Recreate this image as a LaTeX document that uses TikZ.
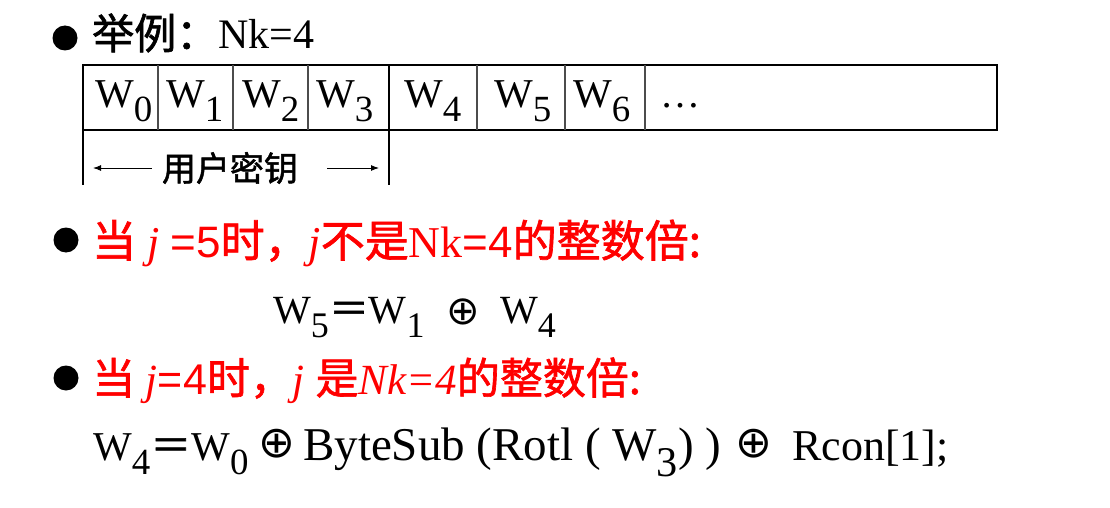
\documentclass[tikz,border=0pt]{standalone}
\usepackage{fontspec}
\setmainfont{Liberation Serif}
\setsansfont{Liberation Sans}
\newfontfamily\cjk[FakeBold=1.5]{Noto Sans CJK SC}
\newfontfamily\symb{DejaVu Sans}
\usetikzlibrary{arrows.meta}
\definecolor{hotred}{RGB}{255,0,0}
% W with its index lowered
\newcommand\Wi[1]{W\raisebox{-0.35em}{\scalebox{0.9}{#1}}}
\tikzset{
  txt/.style={inner sep=0pt, anchor=base west},
  bullet/.style={circle, fill=black, minimum size=25pt, inner sep=0pt},
  tabline/.style={line width=1.2pt},
  keyarrow/.style={-{Latex[length=8pt,width=6pt]}, line width=1pt},
  xorsign/.style={inner sep=0pt, font=\symb\fontsize{#1}{#1}\selectfont},
}
\begin{document}
\begin{tikzpicture}[x=1pt,y=-1pt]
    \useasboundingbox (0,0) rectangle (1110,508);
    % Example line
    \node[bullet] (b1) at (65,38) {};
    \node[txt, font=\fontsize{42}{48}\selectfont] (ex) at (92,49) {{\cjk 举例：}Nk=4};

    % Key table
    \draw[tabline] (83,65) rectangle (997,130);
    \foreach \x in {158,233,308,477,565,645}
        \draw[tabline, black!70] (\x,65) -- (\x,130);
    \draw[tabline] (389,65) -- (389,185);
    \draw[tabline] (83,130) -- (83,185);
    \foreach \n/\x in {0/95,1/166,2/242,3/316,4/404,5/494,6/573}
        \node[txt, font=\fontsize{41}{46}\selectfont] (w\n) at (\x,107) {\Wi{\n}};
    \node[txt, font=\fontsize{40}{46}\selectfont] (dots) at (660,107) {…};

    % User key span
    \node[inner sep=0pt, font=\cjk\fontsize{34}{40}\selectfont] (key) at (230,168) {用户密钥};
    \coordinate (keyL) at (93,168);
    \coordinate (keyR) at (379,168);
    \draw[keyarrow] ([xshift=-10pt]key.west) -- (keyL);
    \draw[keyarrow] ([xshift=29pt]key.east) -- (keyR);

    % Case j = 5
    \node[bullet] (b2) at (66,240) {};
    \node[txt, text=hotred, font=\fontsize{44}{50}\selectfont] (c5) at (92,257)
        {{\cjk 当} \textit{j} {\sffamily =5}{\cjk 时，}\textit{j}{\cjk 不是}Nk{\sffamily =4}{\cjk 的整数倍:}};
    \node[txt, font=\fontsize{40}{46}\selectfont] (e5a) at (273,323) {\Wi{5}{\cjk ＝}\Wi{1}};
    \node[xorsign=40] (x5) at (463,312) {⊕};
    \node[txt, font=\fontsize{40}{46}\selectfont] (e5b) at (500,323) {\Wi{4}};

    % Case j = 4
    \node[bullet] (b3) at (66,378) {};
    \node[txt, text=hotred, font=\fontsize{43}{50}\selectfont] (c4) at (92,394)
        {{\cjk 当} \textit{j}{\sffamily =4}{\cjk 时，}\textit{j} {\cjk 是}\textit{Nk=4}{\cjk 的整数倍:}};
    \node[txt, font=\fontsize{41}{52}\selectfont] (e4a) at (93,460) {\Wi{4}{\cjk ＝}\Wi{0}};
    \node[xorsign=44] (x4a) at (277,444) {⊕};
    \node[txt, font=\fontsize{47}{52}\selectfont] (e4b) at (303,460) {ByteSub (Rotl ( \Wi{3}) )};
    \node[xorsign=44] (x4b) at (754,444) {⊕};
    \node[txt, font=\fontsize{44}{52}\selectfont] (e4c) at (792,460) {Rcon[1];};
\end{tikzpicture}
\end{document}
